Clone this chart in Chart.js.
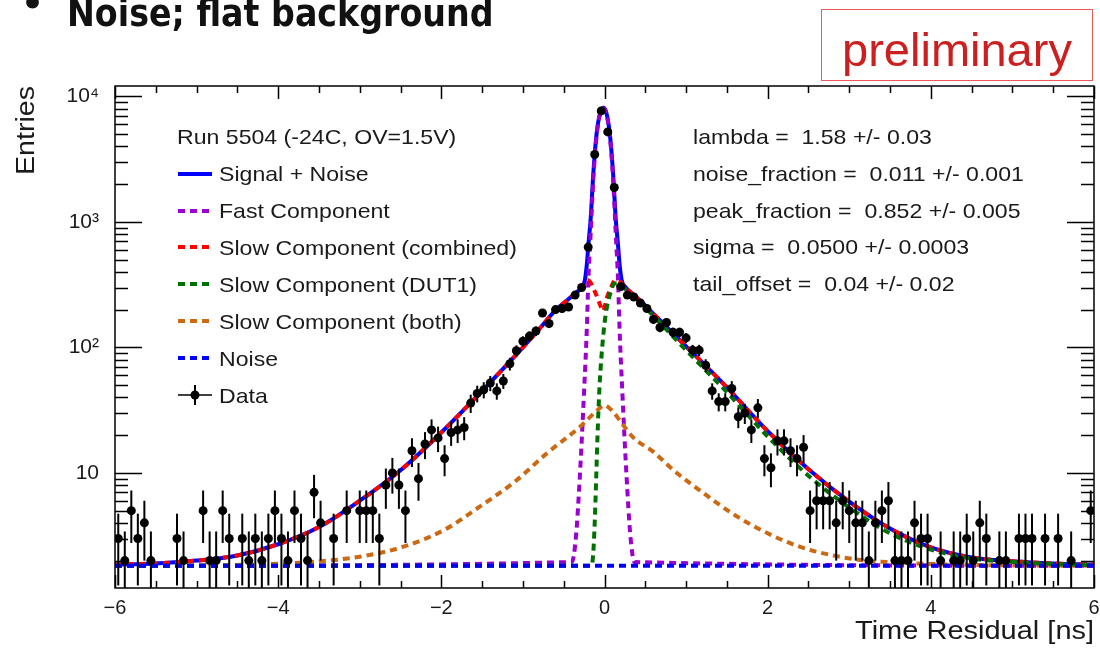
<!DOCTYPE html>
<html>
<head>
<meta charset="utf-8">
<script src="https://cdn.jsdelivr.net/npm/chart.js"></script>
<style>
  html, body { margin: 0; padding: 0; background: #fff; overflow: hidden; }
  #wrap { position: relative; width: 1100px; height: 656px; }
  #c { position: absolute; left: 0; top: 0; }
  .txt {
    position: absolute; white-space: pre; color: #1a1a1a;
    font-family: 'Liberation Sans', Arial, sans-serif;
    font-size: 21px; line-height: 21px;
    transform: scaleX(1.1); transform-origin: 0 0;
  }
  .sym { position: absolute; }
  #title {
    position: absolute; left: 67px; top: -5px; white-space: pre;
    font-family: 'DejaVu Sans Condensed', 'DejaVu Sans', sans-serif;
    font-stretch: condensed; font-weight: bold;
    font-size: 37px; line-height: 37px; color: #111;
  }
  #bullet {
    position: absolute; left: 21px; top: -14px;
    font-family: 'DejaVu Sans', sans-serif; font-weight: bold;
    font-size: 36px; line-height: 36px; color: #111;
  }
  #prelim {
    position: absolute; left: 821px; top: 9px; width: 272px; height: 72px;
    box-sizing: border-box; border: 1px solid #ec5a5a;
  }
  #prelim span {
    position: absolute; left: 0; right: 0; top: 16px; text-align: center;
    font-family: 'Liberation Sans', Arial, sans-serif;
    font-size: 47px; line-height: 47px; color: #cc2020;
  }
  #ytitle {
    position: absolute; left: 12px; top: 175px; white-space: pre;
    font-family: 'Liberation Sans', Arial, sans-serif;
    font-size: 26px; line-height: 26px; color: #1a1a1a;
    transform-origin: 0 0; transform: rotate(-90deg) scaleX(1.1);
  }
  #xtitle {
    position: absolute; right: 6px; top: 618px; white-space: pre;
    font-family: 'Liberation Sans', Arial, sans-serif;
    font-size: 25px; line-height: 25px; color: #1a1a1a;
    transform-origin: 100% 0; transform: scaleX(1.16);
  }
</style>
</head>
<body>
<div id="wrap">
  <canvas id="c" width="1100" height="656"></canvas>
  <div id="bullet">•</div>
  <div id="title">Noise; flat background</div>
  <div id="prelim"><span>preliminary</span></div>
  <div id="ytitle">Entries</div>
  <div id="xtitle">Time Residual [ns]</div>
  <div id="legend"></div>
  <div id="params"></div>
</div>
<script>
// histogram: 150 bins of 0.08 ns between -6 and 6 (null = empty bin, not drawn on log axis)
const binLow = -6;
const binWidth = 0.08;
const binCounts = [
  3, 2, 5, 3, 4, 2, null, null, null, 3,
  2, null, null, 5, 2, 2, 5, 3, null, 3,
  2, 3, 2, 3, 5, 3, 2, 5, 3, 2,
  7, 4, null, 3, null, 5, null, 5, 5, 5,
  3, 8, 10, 8, 5, 15, 9, 17, 22, 19,
  13, 21, 22, 23, 36, 43, 46, 52, 45, 54,
  74, 94, 112, 123, 135, 188, 155, 200, 204, 210,
  261, 300, 630, 3440, 7660, 5210, 1880, 305, 261, 252,
  226, 204, 167, 144, 158, 132, 132, 119, 95, 95,
  72, 45, 37, 37, 47, 28, 30, 22, 33, 13,
  11, 18, 18, 15, 13, 16, 5, 6, 6, 6,
  4, 6, 5, 4, 4, 2, 4, 5, 6, 2,
  2, 2, 4, 3, 3, null, 2, null, 2, 2,
  3, 2, 4, 3, null, 2, 2, null, 3, 3,
  3, null, 3, null, 3, null, 2, null, null, 5
];

// fit curves
const totalX = [-6, -5.5, -5, -4.5, -4, -3.5, -3, -2.5, -2, -1.5, -1, -0.8, -0.6, -0.45, -0.35, -0.28, -0.24, -0.215, -0.199, -0.17, -0.137, -0.096, -0.05, -0.014, 0.02, 0.064, 0.105, 0.138, 0.167, 0.183, 0.21, 0.26, 0.35, 0.45, 0.6, 0.8, 1, 1.5, 2, 2.5, 3, 3.5, 4, 4.5, 5, 5.5, 6];
const totalY = [1.86, 1.9, 2.0, 2.2, 2.7, 3.7, 6.0, 10.5, 21, 45, 100, 140, 198, 240, 272, 300, 345, 470, 640, 1050, 2450, 5100, 7500, 8100, 7500, 5100, 2450, 1050, 640, 470, 345, 300, 265, 232, 185, 137, 102, 48, 21.5, 10.7, 5.9, 3.6, 2.55, 2.12, 1.98, 1.9, 1.86];

const fastX = [-6, -0.4, -0.35, -0.3, -0.25, -0.215, -0.199, -0.17, -0.137, -0.096, -0.05, -0.014, 0.02, 0.064, 0.105, 0.138, 0.167, 0.183, 0.218, 0.268, 0.318, 0.368, 6];
const fastY = [1.82, 1.95, 3.1, 10, 45, 150, 330, 800, 2200, 4900, 7400, 8050, 7400, 4900, 2200, 800, 330, 150, 45, 10, 3.1, 1.95, 1.82];

const slowX = [-6, -5.5, -5, -4.5, -4, -3.5, -3, -2.5, -2, -1.5, -1, -0.8, -0.6, -0.45, -0.35, -0.28, -0.2, -0.12, -0.05, -0.02, 0.03, 0.08, 0.13, 0.2, 0.26, 0.35, 0.45, 0.6, 0.8, 1, 1.5, 2, 2.5, 3, 3.5, 4, 4.5, 5, 5.5, 6];
const slowY = [1.86, 1.9, 2.0, 2.2, 2.7, 3.7, 6.0, 10.5, 21, 45, 100, 140, 198, 240, 272, 305, 342, 280, 215, 195, 250, 300, 343, 330, 298, 265, 232, 185, 137, 102, 48, 21.5, 10.7, 5.9, 3.6, 2.55, 2.12, 1.98, 1.9, 1.86];

const dut1X = [-6, -0.16, -0.14, -0.12, -0.1, -0.08, -0.06, -0.04, -0.02, 0, 0.03, 0.07, 0.12, 0.17, 0.26, 0.35, 0.45, 0.6, 0.8, 1, 1.5, 2, 2.5, 3, 3.5, 4, 4.5, 5, 5.5, 6];
const dut1Y = [1.82, 1.82, 2.2, 4, 10, 25, 50, 80, 115, 155, 210, 268, 322, 325, 290, 258, 225, 178, 130, 95, 44, 19.5, 9.5, 5.3, 3.3, 2.45, 2.08, 1.95, 1.88, 1.84];

const bothX = [-6, -5, -4, -3.5, -3, -2.5, -1.976, -1.526, -1.076, -0.708, -0.3, -0.1, 0, 0.1, 0.2, 0.354, 0.6, 0.846, 1.2, 1.6, 2.0, 2.4, 2.8, 3.2, 3.6, 4, 5, 6];
const bothY = [1.82, 1.83, 1.89, 1.97, 2.15, 2.54, 3.48, 5.4, 8.75, 14.3, 23.3, 31, 34.5, 31, 25.5, 19.1, 14.7, 10.5, 7.0, 4.6, 3.3, 2.57, 2.2, 2.0, 1.93, 1.88, 1.83, 1.82];

const noiseX = [-6, 6];
const noiseY = [1.82, 1.82];

// axes
const xTickValues = [-6, -4, -2, 0, 2, 4, 6];
const xTickLabels = ['\u22126', '\u22124', '\u22122', '0', '2', '4', '6'];
const yTickValues = [10, 100, 1000, 10000];
const yTickLabels = ['10', '10\u00b2', '10\u00b3', '10\u2074'];

// legend and fit results
const legendHeader = 'Run 5504 (-24C, OV=1.5V)';
const legendLabels = ['Signal + Noise', 'Fast Component', 'Slow Component (combined)', 'Slow Component (DUT1)', 'Slow Component (both)', 'Noise', 'Data'];
const fitParams = [
  'lambda =  1.58 +/- 0.03',
  'noise_fraction =  0.011 +/- 0.001',
  'peak_fraction =  0.852 +/- 0.005',
  'sigma =  0.0500 +/- 0.0003',
  'tail_offset =  0.04 +/- 0.02'
];

const COL = {
  total: '#0000ff', fast: '#9a00d0', slow: '#ff0000',
  dut1: '#007000', both: '#cc6a14', noise: '#0000ff'
};
const DASH = [7, 5];

const curve = (xs, ys) => xs.map((x, i) => ({ x: x, y: ys[i] }));
const binCenter = i => binLow + binWidth * (i + 0.5);
const histPoints = binCounts.map((n, i) => ({ x: binCenter(i), y: n }));

const lineDs = (label, pts, color, dashed, order) => ({
  label: label,
  data: pts,
  borderColor: color,
  borderWidth: 4,
  borderDash: dashed ? DASH : [],
  pointRadius: 0,
  fill: false,
  cubicInterpolationMode: 'monotone',
  order: order
});

// vertical sqrt(N) error bars under the data markers
const errorBars = {
  id: 'errorBars',
  beforeDatasetDraw(chart, args) {
    if (args.index !== 0) return;
    const { ctx, chartArea: a, scales: { x, y } } = chart;
    ctx.save();
    ctx.beginPath();
    ctx.rect(a.left, a.top, a.right - a.left, a.bottom - a.top);
    ctx.clip();
    ctx.strokeStyle = '#000';
    ctx.lineWidth = 2;
    binCounts.forEach((n, i) => {
      if (n == null) return;
      const e = Math.sqrt(n);
      const px = x.getPixelForValue(binCenter(i));
      const yLo = n - e > 0 ? y.getPixelForValue(n - e) : a.bottom + 5;
      const yHi = y.getPixelForValue(n + e);
      ctx.beginPath();
      ctx.moveTo(px, yLo);
      ctx.lineTo(px, yHi);
      ctx.stroke();
    });
    ctx.restore();
  }
};

// ROOT-style frame with inward ticks on all four sides
const frameTicks = {
  id: 'frameTicks',
  afterDraw(chart) {
    const { ctx, chartArea: a, scales: { x, y } } = chart;
    ctx.save();
    ctx.strokeStyle = '#000';
    ctx.lineWidth = 1.5;
    ctx.strokeRect(a.left, a.top, a.right - a.left, a.bottom - a.top);
    ctx.beginPath();
    for (let k = 0; k <= 24; k++) {
      const v = -6 + k * 0.5;
      const px = Math.round(x.getPixelForValue(v)) + 0.5;
      const len = k % 4 === 0 ? 13 : 7;
      ctx.moveTo(px, a.bottom); ctx.lineTo(px, a.bottom - len);
      ctx.moveTo(px, a.top); ctx.lineTo(px, a.top + len);
    }
    for (let d = 1; d <= 10000; d *= 10) {
      for (let k = 1; k <= 9; k++) {
        const v = k * d;
        if (v < y.min || v > y.max) continue;
        const py = Math.round(y.getPixelForValue(v)) + 0.5;
        const len = k === 1 ? 27 : 13;
        ctx.moveTo(a.left, py); ctx.lineTo(a.left + len, py);
        ctx.moveTo(a.right, py); ctx.lineTo(a.right - len, py);
      }
    }
    ctx.stroke();
    ctx.restore();
  }
};

new Chart(document.getElementById('c').getContext('2d'), {
  type: 'line',
  data: {
    datasets: [
      {
        label: 'Data',
        data: histPoints,
        showLine: false,
        pointRadius: 4.5,
        pointBackgroundColor: '#000',
        pointBorderColor: '#000',
        pointBorderWidth: 0,
        order: 0
      },
      lineDs('Noise', curve(noiseX, noiseY), COL.noise, true, 1),
      lineDs('Slow Component (DUT1)', curve(dut1X, dut1Y), COL.dut1, true, 2),
      lineDs('Slow Component (combined)', curve(slowX, slowY), COL.slow, true, 3),
      lineDs('Slow Component (both)', curve(bothX, bothY), COL.both, true, 4),
      lineDs('Fast Component', curve(fastX, fastY), COL.fast, true, 5),
      lineDs('Signal + Noise', curve(totalX, totalY), COL.total, false, 6)
    ]
  },
  options: {
    responsive: false,
    animation: false,
    devicePixelRatio: 1,
    events: [],
    layout: { padding: { top: 86, right: 6, left: 0, bottom: 0 } },
    plugins: { legend: { display: false }, tooltip: { enabled: false } },
    scales: {
      x: {
        type: 'linear',
        min: -6, max: 6,
        bounds: 'data',
        grid: { display: false, drawTicks: false },
        border: { display: false },
        afterBuildTicks: s => { s.ticks = xTickValues.map(v => ({ value: v })); },
        afterFit: s => { s.height = 68; s.paddingLeft = 0; s.paddingRight = 0; },
        ticks: {
          autoSkip: false, maxRotation: 0, minRotation: 0, padding: 8,
          color: '#1a1a1a',
          font: { family: 'Liberation Sans', size: 20 },
          callback: (v, i) => xTickLabels[i]
        }
      },
      y: {
        type: 'logarithmic',
        min: 1.21, max: 12100,
        bounds: 'data',
        grid: { display: false, drawTicks: false },
        border: { display: false },
        afterBuildTicks: s => { s.ticks = yTickValues.map(v => ({ value: v })); },
        afterFit: s => { s.width = 115; s.paddingTop = 0; s.paddingBottom = 0; },
        ticks: {
          autoSkip: false, padding: 16,
          color: '#1a1a1a',
          font: { family: 'Liberation Sans', size: 21 },
          callback: (v, i) => yTickLabels[i]
        }
      }
    }
  },
  plugins: [errorBars, frameTicks]
});

// legend box (top left of the frame)
const symbols = [
  `<line x1="0" y1="5" x2="34" y2="5" stroke="${COL.total}" stroke-width="4"/>`,
  `<line x1="0" y1="5" x2="34" y2="5" stroke="${COL.fast}" stroke-width="4" stroke-dasharray="7 5"/>`,
  `<line x1="0" y1="5" x2="34" y2="5" stroke="${COL.slow}" stroke-width="4" stroke-dasharray="7 5"/>`,
  `<line x1="0" y1="5" x2="34" y2="5" stroke="${COL.dut1}" stroke-width="4" stroke-dasharray="7 5"/>`,
  `<line x1="0" y1="5" x2="34" y2="5" stroke="${COL.both}" stroke-width="4" stroke-dasharray="7 5"/>`,
  `<line x1="0" y1="5" x2="34" y2="5" stroke="${COL.noise}" stroke-width="4" stroke-dasharray="7 5"/>`,
  ''
];
let legendHTML = `<div class="txt" style="left:177px;top:${136.7 - 10.3}px">${legendHeader}</div>`;
legendLabels.forEach((lab, i) => {
  const cy = 136.7 + 36.9 * (i + 1);
  legendHTML += `<div class="txt" style="left:219px;top:${cy - 10.3}px">${lab}</div>`;
  if (lab === 'Data') {
    legendHTML += `<svg class="sym" width="36" height="24" style="left:177px;top:${cy - 12}px">
      <line x1="1" y1="12" x2="35" y2="12" stroke="#000" stroke-width="1.5"/>
      <line x1="18" y1="2" x2="18" y2="22" stroke="#000" stroke-width="2"/>
      <circle cx="18" cy="12" r="4.5" fill="#000"/></svg>`;
  } else {
    legendHTML += `<svg class="sym" width="36" height="10" style="left:178px;top:${cy - 5}px">${symbols[i]}</svg>`;
  }
});
document.getElementById('legend').innerHTML = legendHTML;

// fit parameters (top right)
let paramHTML = '';
fitParams.forEach((p, i) => {
  const cy = 136.7 + 36.6 * i;
  paramHTML += `<div class="txt" style="left:693px;top:${cy - 10.3}px">${p}</div>`;
});
document.getElementById('params').innerHTML = paramHTML;
</script>
</body>
</html>
